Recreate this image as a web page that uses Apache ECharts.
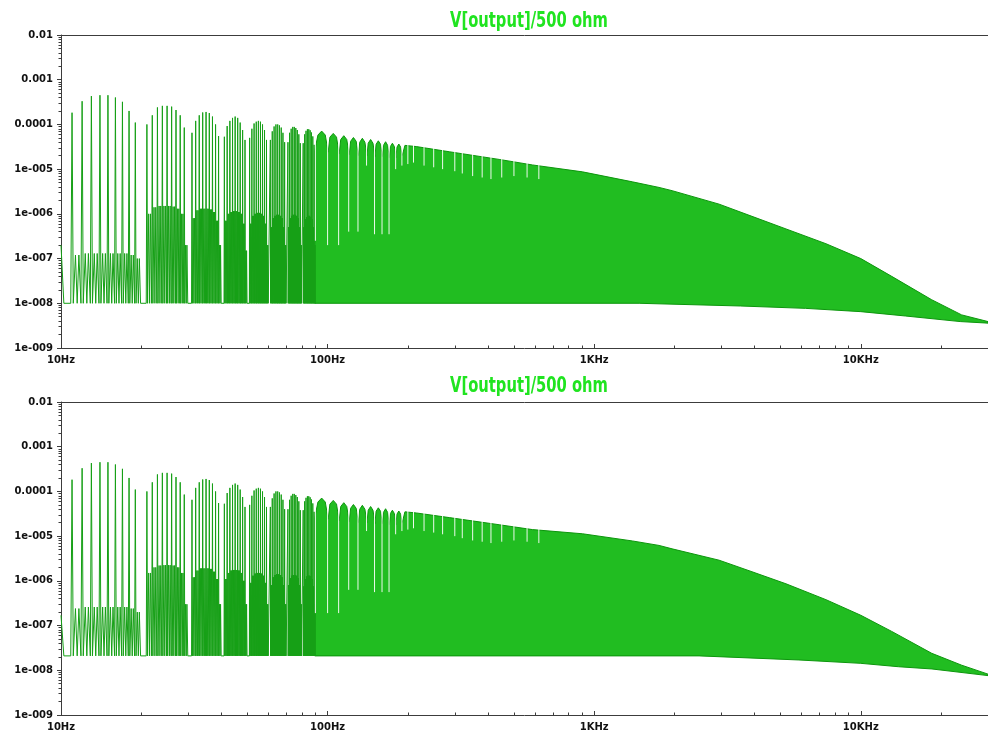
<!DOCTYPE html>
<html><head><meta charset="utf-8">
<script src="https://cdn.jsdelivr.net/npm/echarts@6/dist/echarts.min.js"></script>
<style>html,body{margin:0;padding:0;background:#fff}#c{width:988px;height:732px}</style>
</head><body><div id="c"></div>
<script>
// ---------- texts / ticks ----------
const titleText = 'V[output]/500 ohm';
const xTickValues = [10, 100, 1000, 10000];
const xTickLabels = ['10Hz', '100Hz', '1KHz', '10KHz'];
const yTickValues = [1e-9, 1e-8, 1e-7, 1e-6, 1e-5, 1e-4, 1e-3, 1e-2];
const yTickLabels = ['1e-009', '1e-008', '1e-007', '1e-006', '1e-005', '0.0001', '0.001', '0.01'];

// ---------- discrete harmonic spikes (shared by both panels) ----------
const spikeHz = [
  11,12,13,14,15,16,17,18,19,
  21,22,23,24,25,26,27,28,29,
  31,32,33,34,35,36,37,38,39,
  41,42,43,44,45,46,47,48,49,
  51,52,53,54,55,56,57,58,59,
  61,62,63,64,65,66,67,68,69,
  71,72,73,74,75,76,77,78,79,
  81,82,83,84,85,86,87,88,89
];
const spikePeak = [
  1.83e-4,3.3e-4,4.3e-4,4.5e-4,4.5e-4,4.0e-4,3.2e-4,2.0e-4,1.1e-4,
  1.0e-4,1.6e-4,2.4e-4,2.6e-4,2.6e-4,2.5e-4,2.1e-4,1.6e-4,8.5e-5,
  6.5e-5,1.2e-4,1.6e-4,1.85e-4,1.9e-4,1.8e-4,1.5e-4,1.0e-4,5.5e-5,
  5.3e-5,9.2e-5,1.2e-4,1.4e-4,1.5e-4,1.4e-4,1.1e-4,7.5e-5,4.5e-5,
  5.0e-5,8.0e-5,1.05e-4,1.15e-4,1.2e-4,1.15e-4,1.0e-4,7.5e-5,4.5e-5,
  4.5e-5,7.0e-5,9.0e-5,1.0e-4,1.0e-4,9.5e-5,8.5e-5,6.5e-5,4.0e-5,
  4.0e-5,6.5e-5,8.0e-5,8.8e-5,8.8e-5,8.3e-5,7.5e-5,6.0e-5,3.8e-5,
  3.8e-5,6.0e-5,7.2e-5,7.8e-5,7.8e-5,7.4e-5,6.6e-5,5.4e-5,3.5e-5
];
// in-between (side-lobe) levels after each harmonic
const midA = [
  1.2e-7,1.3e-7,1.3e-7,1.3e-7,1.3e-7,1.3e-7,1.3e-7,1.2e-7,1.0e-7,
  1.0e-6,1.4e-6,1.5e-6,1.5e-6,1.5e-6,1.45e-6,1.3e-6,1.0e-6,2e-7,
  8e-7,1.2e-6,1.3e-6,1.3e-6,1.3e-6,1.25e-6,1.1e-6,7e-7,2e-7,
  7e-7,1.0e-6,1.1e-6,1.15e-6,1.15e-6,1.1e-6,1.0e-6,6e-7,1.5e-7,
  6e-7,9e-7,1.0e-6,1.05e-6,1.05e-6,1.0e-6,9e-7,6e-7,2e-7,
  5e-7,8e-7,9e-7,9.5e-7,9.5e-7,9e-7,8e-7,5e-7,2e-7,
  5e-7,8e-7,9e-7,9.5e-7,9.5e-7,9e-7,8e-7,5e-7,2e-7,
  5e-7,7.5e-7,8.5e-7,9e-7,9e-7,8.5e-7,7.5e-7,5e-7,2e-7
];
const midB = [
  2.4e-7,2.6e-7,2.6e-7,2.6e-7,2.6e-7,2.6e-7,2.6e-7,2.4e-7,2.0e-7,
  1.5e-6,2.0e-6,2.2e-6,2.25e-6,2.25e-6,2.2e-6,2.0e-6,1.5e-6,3e-7,
  1.2e-6,1.7e-6,1.9e-6,1.9e-6,1.9e-6,1.85e-6,1.6e-6,1.1e-6,3e-7,
  1.1e-6,1.5e-6,1.7e-6,1.75e-6,1.75e-6,1.7e-6,1.5e-6,1.0e-6,3e-7,
  9e-7,1.3e-6,1.45e-6,1.5e-6,1.5e-6,1.45e-6,1.3e-6,9e-7,3e-7,
  8e-7,1.2e-6,1.35e-6,1.4e-6,1.4e-6,1.35e-6,1.2e-6,8e-7,3e-7,
  8e-7,1.15e-6,1.3e-6,1.35e-6,1.35e-6,1.3e-6,1.15e-6,8e-7,3e-7,
  7.5e-7,1.1e-6,1.25e-6,1.3e-6,1.3e-6,1.25e-6,1.1e-6,7.5e-7,3e-7
];
const floorA = 1e-8, floorB = 2.1e-8;
const startA = 2e-7, startB = 1.7e-7;

// ---------- dense part: filled band between upper and lower envelope ----------
const bandHzLF = [89.5,92,95,98,100.5,102,105,108,110.5,112,115,118,120.5,122,125,128,130.5,
  132,135,138,140.5,142,145,148,150.5,152,155,158,160.5,162,165,168,170.5,172,175,178,180.5,182,185,188,190.5];
const bandTopLF = [2.6e-5,5.8e-5,7.1e-5,5.8e-5,2.4e-5,5.2e-5,6.3e-5,5.2e-5,2.2e-5,4.6e-5,5.6e-5,4.6e-5,2.1e-5,
  4.2e-5,5.1e-5,4.2e-5,2.0e-5,4.0e-5,4.9e-5,4.0e-5,2.0e-5,3.8e-5,4.6e-5,3.8e-5,1.9e-5,3.6e-5,4.3e-5,3.6e-5,1.9e-5,
  3.4e-5,4.1e-5,3.4e-5,1.8e-5,3.2e-5,3.8e-5,3.2e-5,1.8e-5,3.1e-5,3.65e-5,3.1e-5,2.0e-5];

const upperHzA = [195,215,286,440,587,904,1391,1751,1960,2940,3906,5240,7400,10000,13060,18450,23900,30000];
const upperA = [3.4e-5,3.2e-5,2.45e-5,1.65e-5,1.24e-5,8.7e-6,5.2e-6,3.9e-6,3.3e-6,1.65e-6,8.8e-7,4.6e-7,2.15e-7,1.0e-7,4.0e-8,1.2e-8,5.5e-9,3.9e-9];
const lowerHzA = [89.5,1474,3534,6208,10000,14700,23600,30000];
const lowerA = [1e-8,1e-8,8.7e-9,7.7e-9,6.5e-9,5.2e-9,3.9e-9,3.6e-9];

const upperHzB = [195,215,286,440,587,904,1391,1751,1960,2940,3906,5240,7400,10000,13060,18450,23900,30000];
const upperB = [3.5e-5,3.3e-5,2.6e-5,1.8e-5,1.4e-5,1.13e-5,7.8e-6,6.2e-6,5.2e-6,2.9e-6,1.6e-6,8.6e-7,3.8e-7,1.7e-7,7.4e-8,2.4e-8,1.3e-8,8.2e-9];
const lowerHzB = [89.5,2473,5860,10000,13870,18490,30000];
const lowerB = [2.1e-8,2.1e-8,1.7e-8,1.43e-8,1.2e-8,1.07e-8,7.6e-9];

// ---------- gaps (nulls) cutting into the dense band ----------
const slitHz = [90,100,110,120,130,140,150,160,170,180,190,200,210,230,250,270,300,320,350,380,410,450,500,560,620];
const slitLowA = [2.5e-7,2e-7,2e-7,4e-7,4e-7,1.2e-5,3.5e-7,3.5e-7,3.5e-7,1.0e-5,1.2e-5,1.3e-5,1.4e-5,1.2e-5,1.1e-5,1.0e-5,9e-6,8e-6,7e-6,6.5e-6,6e-6,6.5e-6,7e-6,6.5e-6,6e-6];
const slitLowB = [1.9e-7,1.9e-7,1.9e-7,6.3e-7,6.3e-7,1.3e-5,5.6e-7,5.6e-7,5.6e-7,1.1e-5,1.3e-5,1.4e-5,1.5e-5,1.3e-5,1.2e-5,1.1e-5,1.0e-5,9e-6,8e-6,7.5e-6,7e-6,7.5e-6,8e-6,7.5e-6,7e-6];

// ---------- helpers ----------
const xMin = 10, xMax = 30000, yMin = 1e-9, yMax = 1e-2;
const xMinor = [], yMinor = [];
[10, 100, 1000, 10000].forEach(d => { for (let k = 2; k <= 9; k++) if (k * d <= xMax) xMinor.push(k * d); });
for (let e = -9; e <= -3; e++) for (let k = 2; k <= 9; k++) yMinor.push(+(k * Math.pow(10, e)).toPrecision(3));

function combData(mid, floor, start) {
  const d = [[xMin, start], [10.25, floor]];
  for (let i = 0; i < spikeHz.length; i++) {
    const f = spikeHz[i];
    d.push([f - 0.12, floor], [f, spikePeak[i]], [f + 0.12, floor],
           [f + 0.33, mid[i]], [f + 0.5, floor], [f + 0.67, mid[i]], [f + 0.88, floor]);
  }
  return d;
}
function bandRender(upHz, up, loHz, lo) {
  return function (params, api) {
    const pts = [];
    for (let i = 0; i < upHz.length; i++) pts.push(api.coord([upHz[i], up[i]]));
    for (let i = loHz.length - 1; i >= 0; i--) pts.push(api.coord([loHz[i], lo[i]]));
    return { type: 'polygon', shape: { points: pts },
      style: { fill: '#21bd21', stroke: '#0c960c', lineWidth: 1 } };
  };
}
function slitRender(params, api) {
  const p0 = api.coord([api.value(0), 1e-3]);
  const p1 = api.coord([api.value(0), api.value(1)]);
  return { type: 'line', shape: { x1: p0[0], y1: p0[1], x2: p1[0], y2: p1[1] },
    style: { stroke: '#ffffff', lineWidth: 1, opacity: 0.92 } };
}

const labelFont = { fontFamily: '"DejaVu Sans", sans-serif', fontWeight: 'bold', fontSize: 10, color: '#111' };
const axisLineStyle = { color: '#3c3c3c', width: 1 };

function xAxes(gi) {
  return [
    { type: 'log', gridIndex: gi, min: xMin, max: xMax, position: 'bottom',
      axisLine: { show: true, lineStyle: axisLineStyle },
      axisTick: { show: true, inside: true, length: 4, customValues: xTickValues, lineStyle: axisLineStyle },
      axisLabel: Object.assign({ show: true, margin: 7, customValues: xTickValues,
        formatter: v => { const i = xTickValues.findIndex(t => Math.abs(Math.log10(t) - Math.log10(v)) < 0.01); return i >= 0 ? xTickLabels[i] : ''; } }, labelFont),
      splitLine: { show: false }, minorTick: { show: false } },
    { type: 'log', gridIndex: gi, min: xMin, max: xMax, position: 'bottom',
      axisLine: { show: false },
      axisTick: { show: true, inside: true, length: 2.5, customValues: xMinor, lineStyle: axisLineStyle },
      axisLabel: { show: false }, splitLine: { show: false } },
    { type: 'value', gridIndex: gi, min: 0, max: 1, position: 'top',
      axisLine: { show: true, lineStyle: axisLineStyle },
      axisTick: { show: false }, axisLabel: { show: false }, splitLine: { show: false } }
  ];
}
function yAxes(gi) {
  return [
    { type: 'log', gridIndex: gi, min: yMin, max: yMax, position: 'left',
      axisLine: { show: true, lineStyle: axisLineStyle },
      axisTick: { show: true, inside: false, length: 4, customValues: yTickValues, lineStyle: axisLineStyle },
      axisLabel: Object.assign({ show: true, margin: 8, customValues: yTickValues,
        formatter: v => yTickLabels[Math.round(Math.log10(v)) + 9] }, labelFont),
      splitLine: { show: false } },
    { type: 'log', gridIndex: gi, min: yMin, max: yMax, position: 'left',
      axisLine: { show: false },
      axisTick: { show: true, inside: false, length: 2.5, customValues: yMinor, lineStyle: axisLineStyle },
      axisLabel: { show: false }, splitLine: { show: false } }
  ];
}
function titleGraphic(cy) {
  return { type: 'text', x: 529, y: cy, scaleX: 0.67, scaleY: 1, silent: true,
    style: { text: titleText, fill: '#20e420', align: 'center', verticalAlign: 'middle',
      font: 'bold 22px "DejaVu Sans", sans-serif' } };
}

function panelSeries(xi, yi, mid, floor, start, upHz, up, loHz, lo, slitLow) {
  return [
    { type: 'custom', xAxisIndex: xi, yAxisIndex: yi, clip: true, z: 2, silent: true,
      renderItem: bandRender(bandHzLF.concat(upHz), bandTopLF.concat(up), loHz, lo), data: [[100, 1e-6]] },
    { type: 'line', xAxisIndex: xi, yAxisIndex: yi, z: 3, showSymbol: false, symbol: 'none',
      silent: true, sampling: null, lineStyle: { color: '#16a016', width: 1 }, data: combData(mid, floor, start) },
    { type: 'custom', xAxisIndex: xi, yAxisIndex: yi, clip: true, z: 4, silent: true,
      renderItem: slitRender, data: slitHz.map((h, i) => [h, slitLow[i]]) }
  ];
}

const chart = echarts.init(document.getElementById('c'), null, { renderer: 'canvas' });
chart.setOption({
  animation: false,
  backgroundColor: '#ffffff',
  graphic: [titleGraphic(21), titleGraphic(386)],
  grid: [
    { left: 61, top: 35, width: 928, height: 313 },
    { left: 61, top: 402, width: 928, height: 313 }
  ],
  xAxis: xAxes(0).concat(xAxes(1)),
  yAxis: yAxes(0).concat(yAxes(1)),
  series: panelSeries(0, 0, midA, floorA, startA, upperHzA, upperA, lowerHzA, lowerA, slitLowA)
    .concat(panelSeries(3, 2, midB, floorB, startB, upperHzB, upperB, lowerHzB, lowerB, slitLowB))
});
</script></body></html>
